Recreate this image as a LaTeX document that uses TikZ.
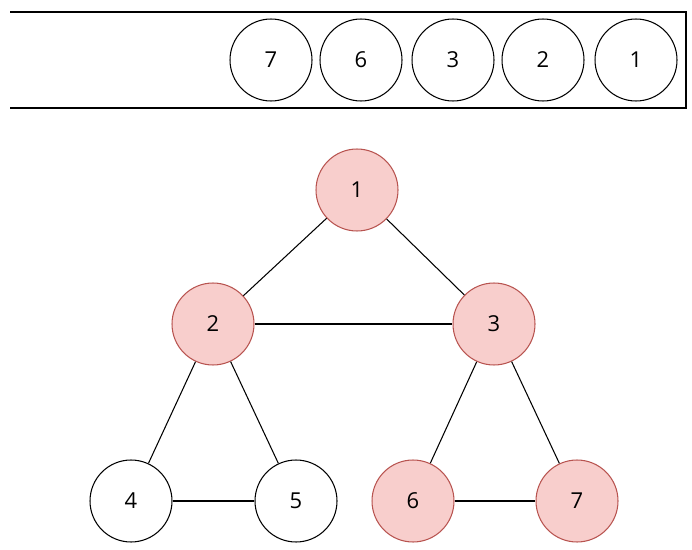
\documentclass[tikz,border=0pt]{standalone}
\usepackage{fontspec}
\setmainfont{Open Sans}
\usetikzlibrary{positioning}
\definecolor{visitfill}{HTML}{F8CECC}
\definecolor{visitline}{HTML}{B85450}
\tikzset{
  vertex/.style={circle,draw=black,fill=white,minimum size=1.64cm,inner sep=0pt,font=\fontsize{12.5}{15}\selectfont},
  visited/.style={vertex,draw=visitline,fill=visitfill},
  edge/.style={draw=black,line width=0.6pt}
}
\begin{document}
\begin{tikzpicture}[x=0.02cm,y=-0.02cm,line width=0.6pt]
\useasboundingbox (0,0) rectangle (692,550);
% queue
\draw (10,12) -- (686,12) -- (686,108) -- (10,108);
\node[vertex] (q7) at (271,60) {7};
\node[vertex] (q6) at (361,60) {6};
\node[vertex] (q3) at (453,60) {3};
\node[vertex] (q2) at (543,60) {2};
\node[vertex] (q1) at (636,60) {1};
% graph
\node[visited] (n1) at (357,190) {1};
\node[visited] (n2) at (213,324) {2};
\node[visited] (n3) at (494,324) {3};
\node[vertex] (n4) at (131,501) {4};
\node[vertex] (n5) at (296,501) {5};
\node[visited] (n6) at (413,501) {6};
\node[visited] (n7) at (577,501) {7};
\draw[edge] (n1) -- (n2);
\draw[edge] (n1) -- (n3);
\draw[edge] (n2) -- (n3);
\draw[edge] (n2) -- (n4);
\draw[edge] (n2) -- (n5);
\draw[edge] (n4) -- (n5);
\draw[edge] (n3) -- (n6);
\draw[edge] (n3) -- (n7);
\draw[edge] (n6) -- (n7);
\end{tikzpicture}
\end{document}
